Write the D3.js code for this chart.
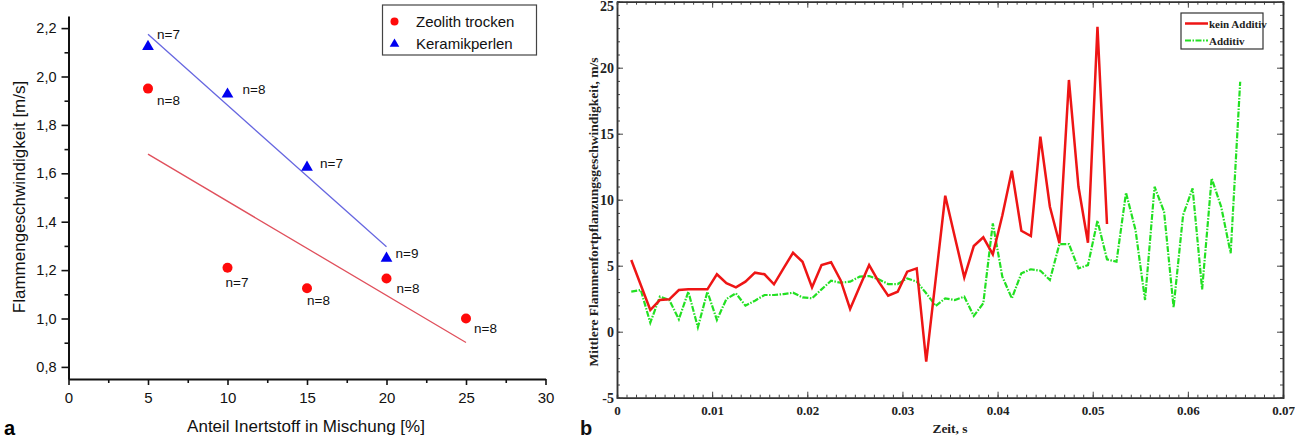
<!DOCTYPE html>
<html>
<head>
<meta charset="utf-8">
<script src="https://cdn.jsdelivr.net/npm/d3@7"></script>
<style>
    body { margin: 0; background: #fff; }
    .pa text { font-family: "Liberation Sans", Arial, sans-serif; fill: #111; }
    .pb text { font-family: "Liberation Serif", "Times New Roman", serif; fill: #222; }
</style>
</head>
<body>
<div id="chart"></div>
<script>

// panel a data
anteil = [5, 10, 15, 20, 25];
zeolith = [1.95, 1.21, 1.125, 1.165, 1.0];
zeolithN = [8, 7, 8, 8, 8];
anteilKeramik = [5, 10, 15, 20];
keramik = [2.128, 1.931, 1.629, 1.253];
keramikN = [7, 8, 7, 9];
xTicksA = [0, 5, 10, 15, 20, 25, 30];
yTicksA = [0.8, 1.0, 1.2, 1.4, 1.6, 1.8, 2.0, 2.2];

// panel b data
zeit = [0.0015, 0.0025, 0.0035, 0.0045, 0.0055, 0.0065, 0.0075, 0.0085, 0.0095, 0.0105,
    0.0115, 0.0125, 0.0135, 0.0145, 0.0155, 0.0165, 0.0175, 0.0185, 0.0195, 0.0205,
    0.0215, 0.0225, 0.0235, 0.0245, 0.0255, 0.0265, 0.0275, 0.0285, 0.0295, 0.0305,
    0.0315, 0.0325, 0.0335, 0.0345, 0.0355, 0.0365, 0.0375, 0.0385, 0.0395, 0.0405,
    0.0415, 0.0425, 0.0435, 0.0445, 0.0455, 0.0465, 0.0475, 0.0485, 0.0495, 0.0505,
    0.0515, 0.0525, 0.0535, 0.0545, 0.0555, 0.0565, 0.0575, 0.0585, 0.0595, 0.0605,
    0.0615, 0.0625, 0.0635, 0.0645, 0.0655];
keinAdditiv = [5.43, 3.54, 1.64, 2.4, 2.45, 3.16, 3.21, 3.21, 3.21, 4.35,
    3.67, 3.36, 3.79, 4.47, 4.35, 3.59, 4.8, 5.98, 5.3, 3.36,
    5.05, 5.26, 3.9, 1.72, 3.41, 5.05, 3.79, 2.73, 3.03, 4.55,
    4.8, -2.27, 4.0, 10.3, 7.2, 4.12, 6.49, 7.15, 5.86, 8.8,
    12.2, 7.65, 7.25, 14.77, 9.47, 6.7, 19.07, 11.0, 6.74, 23.1, 8.16];
additiv = [3.03, 3.16, 0.68, 2.65, 2.4, 0.94, 3.03, 0.33, 3.03, 0.89,
    2.48, 2.91, 1.97, 2.35, 2.78, 2.78, 2.85, 2.95, 2.6, 2.53,
    3.21, 3.86, 3.71, 3.79, 4.17, 4.22, 3.97, 3.61, 3.61, 4.04,
    3.79, 2.91, 1.95, 2.53, 2.4, 2.65, 1.19, 2.15, 8.21, 4.17,
    2.53, 4.42, 4.73, 4.62, 3.92, 6.64, 6.64, 4.8, 5.05, 8.41,
    5.48, 5.3, 10.53, 7.7, 2.4, 10.98, 9.09, 1.85, 8.84, 10.86,
    3.21, 11.62, 9.47, 5.94, 18.94];
xTicksB = [0, 0.01, 0.02, 0.03, 0.04, 0.05, 0.06, 0.07];
yTicksB = [-5, 0, 5, 10, 15, 20, 25];

var svg = d3.select("#chart").append("svg")
    .attr("width", 1295)
    .attr("height", 438);

// least squares line for the trend lines in panel a
function fit(xs, ys) {
    var mx = d3.mean(xs), my = d3.mean(ys);
    var sxy = d3.sum(xs, function(d, i) { return (d - mx) * (ys[i] - my); });
    var sxx = d3.sum(xs, function(d) { return (d - mx) * (d - mx); });
    var b = sxy / sxx;
    return function(x) { return my + b * (x - mx); };
}

/* ---------------- panel a ---------------- */
var pa = svg.append("g").attr("class", "pa");

var xA = d3.scaleLinear().domain([0, 30]).range([68.5, 545.5]);
var yA = d3.scaleLinear().domain([0.75, 2.25]).range([379, 16]);
var comma = function(d) { return d3.format(".1f")(d).replace(".", ","); };

// minor ticks
pa.append("g")
    .attr("transform", "translate(0,379)")
    .call(d3.axisBottom(xA).tickValues([2.5, 7.5, 12.5, 17.5, 22.5, 27.5]).tickSize(4).tickFormat(""))
    .call(function(g) { g.select(".domain").remove(); });
pa.append("g")
    .attr("transform", "translate(68.5,0)")
    .call(d3.axisLeft(yA).tickValues([0.9, 1.1, 1.3, 1.5, 1.7, 1.9, 2.1]).tickSize(4).tickFormat(""))
    .call(function(g) { g.select(".domain").remove(); });

var xAxisA = pa.append("g")
    .attr("transform", "translate(0,379)")
    .call(d3.axisBottom(xA).tickValues(xTicksA).tickSize(6).tickSizeOuter(0).tickPadding(7));
xAxisA.selectAll("text").attr("font-size", 15);

var yAxisA = pa.append("g")
    .attr("transform", "translate(68.5,0)")
    .call(d3.axisLeft(yA).tickValues(yTicksA).tickSize(7).tickSizeOuter(0).tickPadding(5).tickFormat(comma));
yAxisA.selectAll("text").attr("font-size", 14.5);

pa.selectAll(".domain").attr("stroke", "#111").attr("stroke-width", 2);
pa.selectAll(".tick line").attr("stroke", "#111").attr("stroke-width", 1.6);

pa.append("text")
    .attr("x", 306)
    .attr("y", 432)
    .attr("text-anchor", "middle")
    .attr("font-size", 17)
    .text("Anteil Inertstoff in Mischung [%]");

pa.append("text")
    .attr("transform", "translate(25,197) rotate(-90)")
    .attr("text-anchor", "middle")
    .attr("font-size", 17)
    .text("Flammengeschwindigkeit [m/s]");

// trend lines
var fz = fit(anteil, zeolith);
var fk = fit(anteilKeramik, keramik);

pa.append("line")
    .attr("x1", xA(5)).attr("y1", yA(fz(5)))
    .attr("x2", xA(25)).attr("y2", yA(fz(25)))
    .attr("stroke", "#e0505c").attr("stroke-width", 1.3);

pa.append("line")
    .attr("x1", xA(5)).attr("y1", yA(fk(5)))
    .attr("x2", xA(20)).attr("y2", yA(fk(20)))
    .attr("stroke", "#6666e0").attr("stroke-width", 1.3);

// markers
pa.selectAll("circle.zeo")
    .data(anteil)
    .enter().append("circle")
    .attr("class", "zeo")
    .attr("cx", function(d) { return xA(d); })
    .attr("cy", function(d, i) { return yA(zeolith[i]); })
    .attr("r", 5)
    .attr("fill", "#ff0a0a");

var tri = d3.symbol().type(d3.symbolTriangle).size(60);
pa.selectAll("path.ker")
    .data(anteilKeramik)
    .enter().append("path")
    .attr("class", "ker")
    .attr("d", tri)
    .attr("transform", function(d, i) { return "translate(" + xA(d) + "," + (yA(keramik[i]) + 1) + ")"; })
    .attr("fill", "#0000f0");

// n labels (offsets in px from each marker)
var zeoOff = [[9, 16], [-2, 19], [0, 17], [10, 14], [8, 14]];
var kerOff = [[9, -7], [15, 1], [13, 2], [9, 1]];

pa.selectAll("text.nz")
    .data(anteil)
    .enter().append("text")
    .attr("class", "nz")
    .attr("x", function(d, i) { return xA(d) + zeoOff[i][0]; })
    .attr("y", function(d, i) { return yA(zeolith[i]) + zeoOff[i][1]; })
    .attr("font-size", 13.5)
    .text(function(d, i) { return "n=" + zeolithN[i]; });

pa.selectAll("text.nk")
    .data(anteilKeramik)
    .enter().append("text")
    .attr("class", "nk")
    .attr("x", function(d, i) { return xA(d) + kerOff[i][0]; })
    .attr("y", function(d, i) { return yA(keramik[i]) + kerOff[i][1]; })
    .attr("font-size", 13.5)
    .text(function(d, i) { return "n=" + keramikN[i]; });

// legend a
var legA = pa.append("g");
legA.append("rect")
    .attr("x", 382.5).attr("y", 5)
    .attr("width", 154).attr("height", 50)
    .attr("fill", "#fff").attr("stroke", "#444").attr("stroke-width", 1.2);
legA.append("circle").attr("cx", 394.5).attr("cy", 21.5).attr("r", 4).attr("fill", "#ff0a0a");
legA.append("path").attr("d", d3.symbol().type(d3.symbolTriangle).size(40))
    .attr("transform", "translate(394.5,44)").attr("fill", "#0000f0");
legA.append("text").attr("x", 416).attr("y", 27).attr("font-size", 15).text("Zeolith trocken");
legA.append("text").attr("x", 416).attr("y", 49).attr("font-size", 15).text("Keramikperlen");

svg.append("text")
    .attr("x", 4).attr("y", 435)
    .attr("font-family", "Liberation Sans, Arial, sans-serif")
    .attr("font-weight", "bold")
    .attr("font-size", 20)
    .text("a");

/* ---------------- panel b ---------------- */
var pb = svg.append("g").attr("class", "pb");

var xB = d3.scaleLinear().domain([0, 0.07]).range([617, 1283]);
var yB = d3.scaleLinear().domain([-5, 25]).range([397.7, 1.7]);

var xMinor = d3.range(0, 71).map(function(i) { return i / 1000; });
var yMinor = d3.range(-5, 26);

// minor ticks on all four sides
pb.append("g").attr("transform", "translate(0,397.7)")
    .call(d3.axisBottom(xB).tickValues(xMinor).tickSize(-3).tickFormat(""));
pb.append("g").attr("transform", "translate(0,1.7)")
    .call(d3.axisTop(xB).tickValues(xMinor).tickSize(-3).tickFormat(""));
pb.append("g").attr("transform", "translate(617,0)")
    .call(d3.axisLeft(yB).tickValues(yMinor).tickSize(-3).tickFormat(""));
pb.append("g").attr("transform", "translate(1283,0)")
    .call(d3.axisRight(yB).tickValues(yMinor).tickSize(-3).tickFormat(""));

// major ticks
var xAxisB = pb.append("g").attr("transform", "translate(0,397.7)")
    .call(d3.axisBottom(xB).tickValues(xTicksB).tickSize(-6).tickSizeOuter(0).tickPadding(8)
        .tickFormat(function(d) { return d === 0 ? "0" : d3.format(".2f")(d); }));
xAxisB.selectAll("text").attr("font-size", 13).attr("font-weight", "bold");

var yAxisB = pb.append("g").attr("transform", "translate(617,0)")
    .call(d3.axisLeft(yB).tickValues(yTicksB).tickSize(-6).tickSizeOuter(0).tickPadding(3)
        .tickFormat(function(d) { return d; }));
yAxisB.selectAll("text").attr("font-size", 14).attr("font-weight", "bold");
// top label sits against the edge, as in the original
yAxisB.selectAll("text").filter(function(d) { return d === 25; }).attr("dy", "0.62em");

pb.append("g").attr("transform", "translate(0,1.7)")
    .call(d3.axisTop(xB).tickValues(xTicksB).tickSize(-6).tickSizeOuter(0).tickFormat(""));
pb.append("g").attr("transform", "translate(1283,0)")
    .call(d3.axisRight(yB).tickValues(yTicksB).tickSize(-6).tickSizeOuter(0).tickFormat(""));

pb.selectAll(".domain").attr("stroke", "#333").attr("stroke-width", 1.5);
pb.selectAll(".tick line").attr("stroke", "#444").attr("stroke-width", 1);

// series
var lineB = d3.line()
    .x(function(d) { return xB(d[0]); })
    .y(function(d) { return yB(d[1]); });

pb.append("path")
    .datum(additiv.map(function(d, i) { return [zeit[i], d]; }))
    .attr("d", lineB)
    .attr("fill", "none")
    .attr("stroke", "#22e022")
    .attr("stroke-width", 2.2)
    .attr("stroke-dasharray", "6,1.5,1.5,1.5");

pb.append("path")
    .datum(keinAdditiv.map(function(d, i) { return [zeit[i], d]; }))
    .attr("d", lineB)
    .attr("fill", "none")
    .attr("stroke", "#ee1515")
    .attr("stroke-width", 2.5)
    .attr("stroke-linejoin", "miter");

// axis titles
pb.append("text")
    .attr("x", 950).attr("y", 433)
    .attr("text-anchor", "middle")
    .attr("font-size", 13.5)
    .attr("font-weight", "bold")
    .text("Zeit, s");

pb.append("text")
    .attr("transform", "translate(598,212) rotate(-90)")
    .attr("text-anchor", "middle")
    .attr("font-size", 13.5)
    .attr("font-weight", "bold")
    .text("Mittlere Flammenfortpflanzungsgeschwindigkeit, m/s");

// legend b
var legB = pb.append("g");
legB.append("rect")
    .attr("x", 1181).attr("y", 13)
    .attr("width", 82).attr("height", 36)
    .attr("fill", "#fff").attr("stroke", "#333").attr("stroke-width", 1.2);
legB.append("line").attr("x1", 1185).attr("x2", 1208).attr("y1", 23.5).attr("y2", 23.5)
    .attr("stroke", "#ee1515").attr("stroke-width", 2.5);
legB.append("line").attr("x1", 1185).attr("x2", 1208).attr("y1", 40.5).attr("y2", 40.5)
    .attr("stroke", "#22e022").attr("stroke-width", 2)
    .attr("stroke-dasharray", "6,1.5,1.5,1.5");
legB.append("text").attr("x", 1209).attr("y", 27.5).attr("font-size", 11).attr("font-weight", "bold").text("kein Additiv");
legB.append("text").attr("x", 1209).attr("y", 44.5).attr("font-size", 11).attr("font-weight", "bold").text("Additiv");

svg.append("text")
    .attr("x", 580).attr("y", 435)
    .attr("font-family", "Liberation Sans, Arial, sans-serif")
    .attr("font-weight", "bold")
    .attr("font-size", 20)
    .attr("fill", "#111")
    .text("b");

</script>
</body>
</html>
